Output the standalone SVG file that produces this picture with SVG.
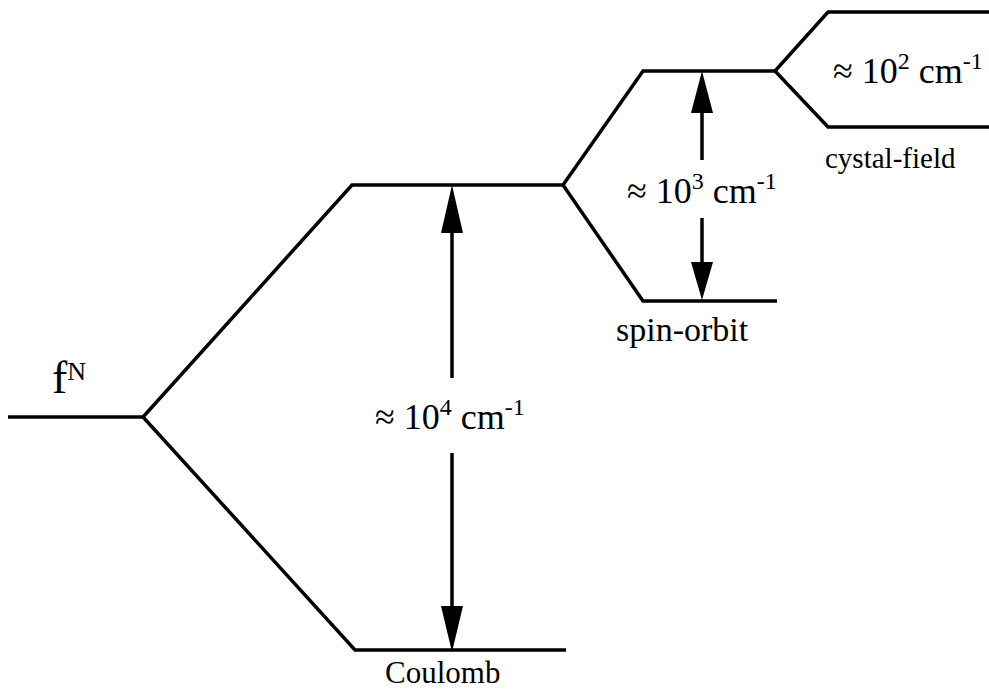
<svg xmlns="http://www.w3.org/2000/svg" width="989" height="693" viewBox="0 0 989 693">
<style>
.ln{fill:none;stroke:#000;stroke-width:3.5;stroke-linejoin:miter;stroke-linecap:butt}
.sh{fill:none;stroke:#000;stroke-width:3.5}
.ah{fill:#000;stroke:none}
.t{font-family:"Liberation Serif","Times New Roman",serif;fill:#000}
</style>
<rect width="989" height="693" fill="#fff"/>
<g id="levels">
<g id="fN"><path class="ln" d="M8,417 L143,417"/><text class="t" x="52" y="393" font-size="46">f<tspan font-size="26" dy="-13">N</tspan></text></g>
<g id="coulomb-split"><path class="ln" d="M563,185 L352,185 L143,417 L355,650 L566,650"/></g>
<g id="spin-orbit-split"><path class="ln" d="M775,71 L643,71 L563,185 L643,301 L777,301"/></g>
<g id="crystal-field-split"><path class="ln" d="M989,12 L828,12 L775,71 L828,127 L989,127"/></g>
</g>
<g id="connectors">
<g id="arrow-coulomb">
<path class="sh" d="M452,230 L452,378 M452,453 L452,606"/>
<polygon class="ah" points="452,185 441,233 463,233"/>
<polygon class="ah" points="452,652 441,606 463,606"/>
</g>
<g id="arrow-spin-orbit">
<path class="sh" d="M702,110 L702,160 M702,218 L702,262"/>
<polygon class="ah" points="702,71 691,113 713,113"/>
<polygon class="ah" points="702,300 691,262 713,262"/>
</g>
</g>
<g id="labels">
<text class="t" x="375" y="429" font-size="36">≈ 10<tspan font-size="24" dy="-14">4</tspan><tspan dy="14"> cm</tspan><tspan font-size="24" dy="-14">-1</tspan></text>
<text class="t" x="627" y="203" font-size="36">≈ 10<tspan font-size="24" dy="-14">3</tspan><tspan dy="14"> cm</tspan><tspan font-size="24" dy="-14">-1</tspan></text>
<text class="t" x="833" y="83" font-size="36">≈ 10<tspan font-size="24" dy="-14">2</tspan><tspan dy="14"> cm</tspan><tspan font-size="24" dy="-14">-1</tspan></text>
<text class="t" x="385" y="683" font-size="31">Coulomb</text>
<text class="t" x="616" y="341" font-size="34">spin-orbit</text>
<text class="t" x="825" y="168" font-size="29">cystal-field</text>
</g>
</svg>
